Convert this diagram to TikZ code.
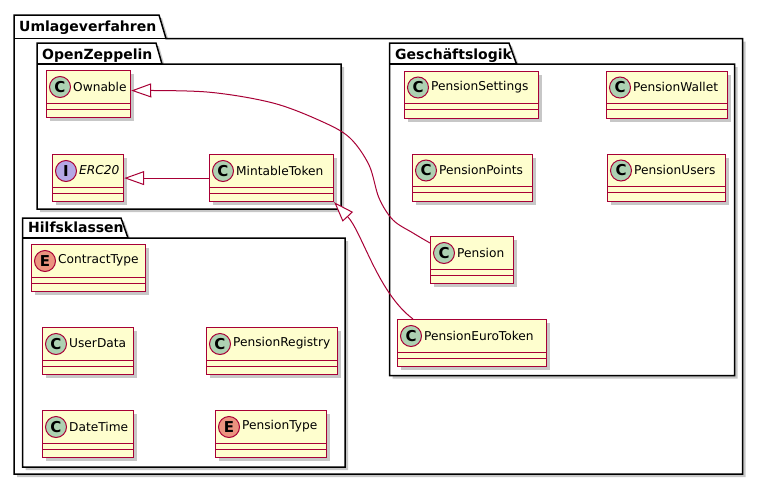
\documentclass[tikz,border=0pt]{standalone}
\usepackage{fontspec}
\setmainfont{DejaVu Sans}
\usetikzlibrary{arrows.meta,shadows}

\definecolor{umlborder}{HTML}{A80036}
\definecolor{umlfill}{HTML}{FEFECE}
\definecolor{spotC}{HTML}{ADD1B2}
\definecolor{spotI}{HTML}{B4A7E5}
\definecolor{spotE}{HTML}{EB937F}

\tikzset{
  pkgframe/.style={draw=black, line width=1.5pt, fill=white,
    drop shadow={shadow xshift=3pt, shadow yshift=-3pt, opacity=0.22, fill=black}},
  pkgline/.style={draw=black, line width=1.5pt},
  pkglabel/.style={anchor=base west, inner sep=0pt, font=\fontsize{14}{16}\selectfont\bfseries},
  classbox/.style={draw=umlborder, line width=1.2pt, fill=umlfill, inner sep=0pt,
    anchor=north west, minimum height=47pt,
    drop shadow={shadow xshift=3.5pt, shadow yshift=-3.5pt, opacity=0.22, fill=black}},
  classrule/.style={draw=umlborder, line width=1pt},
  spot/.style={circle, draw=umlborder, line width=1pt, minimum size=21pt, inner sep=0pt,
    font=\fontsize{15}{15}\selectfont\bfseries},
  classname/.style={anchor=west, inner sep=0pt, font=\fontsize{12.2}{14}\selectfont},
  inherit/.style={draw=umlborder, line width=1pt,
    -{Triangle[length=20pt, width=14pt, fill=white, line width=1pt]}}
}

% class box: id, left, top, width, spot letter, spot colour, name
\newcommand\umlclass[7]{%
  \node[classbox, minimum width=#4pt] (#1) at (#2,#3) {};
  \draw[classrule] ([yshift=-33pt]#1.north west) -- ([yshift=-33pt]#1.north east);
  \draw[classrule] ([yshift=-39pt]#1.north west) -- ([yshift=-39pt]#1.north east);
  \node[spot, fill=#6] (#1-spot) at ([xshift=14pt,yshift=-17pt]#1.north west) {#5};
  \node[classname] (#1-name) at ([xshift=27pt,yshift=-16.5pt]#1.north west) {#7};
}

\begin{document}
\begin{tikzpicture}[x=1pt, y=-1pt]
\useasboundingbox (0,0) rectangle (763,485);

% packages
\draw[pkgframe] (14,15) -- (159,15) -- (166,38.5) -- (742.5,38.5) -- (742.5,474) -- (14,474) -- cycle;
\draw[pkgline] (14,38.5) -- (166,38.5);
\node[pkglabel] (pkg-umlage) at (19,31.7) {Umlageverfahren};

\draw[pkgframe] (37,43) -- (156,43) -- (162,64) -- (341,64) -- (341,209) -- (37,209) -- cycle;
\draw[pkgline] (37,64) -- (162,64);
\node[pkglabel] (pkg-oz) at (42,59) {OpenZeppelin};

\draw[pkgframe] (389.5,43) -- (509,43) -- (516.5,64) -- (734.5,64) -- (734.5,375.5) -- (389.5,375.5) -- cycle;
\draw[pkgline] (389.5,64) -- (516.5,64);
\node[pkglabel] (pkg-gl) at (395,59) {Geschäftslogik};

\draw[pkgframe] (22.5,218) -- (121,218) -- (128,238) -- (345,238) -- (345,467) -- (22.5,467) -- cycle;
\draw[pkgline] (22.5,238) -- (128,238);
\node[pkglabel] (pkg-hk) at (28,232) {Hilfsklassen};

% OpenZeppelin
\umlclass{own}{46}{70}{84}{C}{spotC}{Ownable}
\umlclass{erc}{52}{154}{71}{I}{spotI}{\itshape ERC20}
\umlclass{mint}{209}{154}{124}{C}{spotC}{MintableToken}

% Geschäftslogik
\umlclass{settings}{404}{70.5}{134}{C}{spotC}{PensionSettings}
\umlclass{wallet}{606}{70.5}{121}{C}{spotC}{PensionWallet}
\umlclass{points}{412}{153.5}{120}{C}{spotC}{PensionPoints}
\umlclass{users}{607}{153.5}{118}{C}{spotC}{PensionUsers}
\umlclass{pension}{430}{236}{83}{C}{spotC}{Pension}
\umlclass{pet}{397}{319}{149}{C}{spotC}{PensionEuroToken}

% Hilfsklassen
\umlclass{ctype}{31}{244}{114}{E}{spotE}{ContractType}
\umlclass{udata}{42}{327}{91}{C}{spotC}{UserData}
\umlclass{registry}{206}{327}{131}{C}{spotC}{PensionRegistry}
\umlclass{dtime}{42}{410}{91}{C}{spotC}{DateTime}
\umlclass{ptype}{215}{410}{111}{E}{spotE}{PensionType}

% generalisations
\draw[inherit] (mint.west) -- (erc.east);
\draw[inherit] plot[smooth, tension=0.55] coordinates {
  ([yshift=-7pt]pension.north west) (413,233) (393,220) (379,198) (369,165)
  (350,138) (323,122) (273,103) (207,92) ([yshift=3.5pt]own.east)};
\draw[inherit] ([xshift=16pt]pet.north west)
  .. controls (378,293) and (362,232) .. (mint.south east);
\end{tikzpicture}
\end{document}
